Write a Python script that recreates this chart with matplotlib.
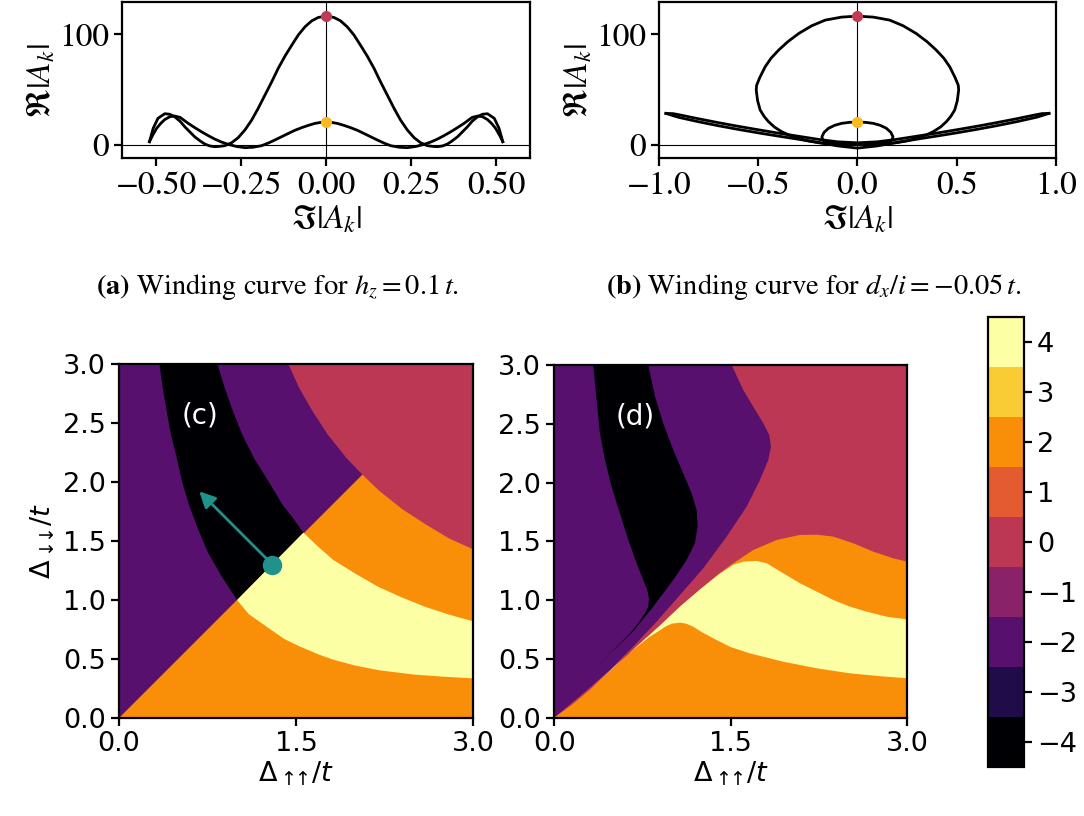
import numpy as np
import matplotlib
matplotlib.use("Agg")
import matplotlib.pyplot as plt
from matplotlib.colors import BoundaryNorm
from matplotlib.cm import ScalarMappable

plt.rcParams["mathtext.fontset"] = "stix"

# ---- winding curves, h_z = 0.1 t ----
a_outer_x = [-0.520, -0.509, -0.495, -0.475, -0.460, -0.446, -0.430, -0.416, -0.400, -0.387, -0.370,
             -0.357, -0.343, -0.328, -0.313, -0.298, -0.278, -0.259, -0.239, -0.219, -0.200, -0.180,
             -0.160, -0.141, -0.121, -0.101, -0.082, -0.062, -0.042, -0.023, 0.000, 0.023, 0.042,
             0.062, 0.082, 0.101, 0.121, 0.141, 0.160, 0.180, 0.200, 0.219, 0.239, 0.259, 0.278,
             0.298, 0.313, 0.328, 0.343, 0.357, 0.370, 0.387, 0.400, 0.416, 0.430, 0.446, 0.460,
             0.475, 0.495, 0.509, 0.520]
a_outer_y = [3.0, 15.1, 24.1, 28.3, 27.8, 25.6, 21.5, 16.5, 11.5, 7.5, 3.5, 0.9, -0.8, -1.5, -1.2,
             -0.6, 2.1, 6.6, 13.6, 22.6, 33.1, 45.2, 57.2, 69.3, 80.4, 90.3, 99.4, 106.9, 112.3,
             115.3, 116.5, 115.3, 112.3, 106.9, 99.4, 90.3, 80.4, 69.3, 57.2, 45.2, 33.1, 22.6,
             13.6, 6.6, 2.1, -0.6, -1.2, -1.5, -0.8, 0.9, 3.5, 7.5, 11.5, 16.5, 21.5, 25.6, 27.8,
             28.3, 24.1, 15.1, 3.0]
a_inner_x = [-0.520, -0.512, -0.499, -0.487, -0.475, -0.460, -0.446, -0.430, -0.406, -0.387, -0.367,
             -0.347, -0.328, -0.308, -0.288, -0.264, -0.239, -0.215, -0.190, -0.170, -0.151, -0.131,
             -0.111, -0.092, -0.072, -0.052, -0.032, -0.015, 0.000, 0.015, 0.032, 0.052, 0.072,
             0.092, 0.111, 0.131, 0.151, 0.170, 0.190, 0.215, 0.239, 0.264, 0.288, 0.308, 0.328,
             0.347, 0.367, 0.387, 0.406, 0.430, 0.446, 0.460, 0.475, 0.487, 0.499, 0.512, 0.520]
a_inner_y = [3.0, 8.0, 15.0, 19.5, 23.0, 25.6, 26.2, 25.0, 19.6, 15.8, 12.0, 8.5, 5.4, 2.7, 0.6,
             -1.3, -2.4, -2.0, -0.6, 1.8, 4.5, 7.5, 10.5, 13.3, 15.7, 17.8, 19.6, 20.5, 20.8, 20.5,
             19.6, 17.8, 15.7, 13.3, 10.5, 7.5, 4.5, 1.8, -0.6, -2.0, -2.4, -1.3, 0.6, 2.7, 5.4,
             8.5, 12.0, 15.8, 19.6, 25.0, 26.2, 25.6, 23.0, 19.5, 15.0, 8.0, 3.0]

# ---- winding curves, d_x/i = -0.05 t ----
b_big_x = [0.000, 0.080, 0.162, 0.230, 0.295, 0.350, 0.397, 0.435, 0.465, 0.492, 0.508, 0.510,
           0.503, 0.490, 0.470, 0.448, 0.418, 0.381, 0.340, 0.297, 0.250, 0.196, 0.140, 0.079,
           0.000, -0.079, -0.140, -0.196, -0.250, -0.297, -0.340, -0.381, -0.418, -0.448, -0.470,
           -0.490, -0.503, -0.510, -0.508, -0.492, -0.465, -0.435, -0.397, -0.350, -0.295, -0.230,
           -0.162, -0.080, 0.000]
b_big_y = [116.5, 115.6, 112.9, 107.8, 100.9, 93.5, 85.8, 78.5, 70.7, 61.0, 54.0, 49.7, 40.0,
           31.6, 25.8, 21.1, 16.2, 12.0, 8.6, 6.0, 3.8, 2.1, 1.1, 0.6, 0.3, 0.6, 1.1, 2.1, 3.8,
           6.0, 8.6, 12.0, 16.2, 21.1, 25.8, 31.6, 40.0, 49.7, 54.0, 61.0, 70.7, 78.5, 85.8, 93.5,
           100.9, 107.8, 112.9, 115.6, 116.5]
b_small_x = [0.000, 0.040, 0.079, 0.115, 0.146, 0.168, 0.179, 0.175, 0.163, 0.130, 0.079, 0.000,
             -0.079, -0.130, -0.163, -0.175, -0.179, -0.168, -0.146, -0.115, -0.079, -0.040, 0.000]
b_small_y = [20.8, 20.5, 19.6, 17.8, 15.1, 11.5, 7.5, 4.8, 3.0, 1.8, 1.2, 1.0, 1.2, 1.8, 3.0, 4.8,
             7.5, 11.5, 15.1, 17.8, 19.6, 20.5, 20.8]
b_upper_x = [-0.965, -0.93, -0.90, -0.80, -0.70, -0.60, -0.50, -0.40, -0.30, -0.20, -0.10, 0.00,
             0.10, 0.20, 0.30, 0.40, 0.50, 0.60, 0.70, 0.80, 0.90, 0.93, 0.965]
b_upper_y = [28.6, 28.4, 27.4, 23.7, 20.2, 16.9, 13.8, 10.8, 8.0, 5.2, 2.9, 2.0, 2.9, 5.2, 8.0,
             10.8, 13.8, 16.9, 20.2, 23.7, 27.4, 28.4, 28.6]
b_lower_x = [-0.965, -0.93, -0.90, -0.80, -0.70, -0.60, -0.50, -0.40, -0.30, -0.20, -0.10, 0.00,
             0.10, 0.20, 0.30, 0.40, 0.50, 0.60, 0.70, 0.80, 0.90, 0.93, 0.965]
b_lower_y = [28.6, 26.6, 25.0, 21.0, 17.4, 14.1, 11.0, 8.1, 5.3, 2.4, -0.8, -2.8, -0.8, 2.4, 5.3,
             8.1, 11.0, 14.1, 17.4, 21.0, 25.0, 26.6, 28.6]

peak_big = 116.5
peak_small = 20.8

# ---- phase diagram (c): boundaries in (Δ↑↑/t, Δ↓↓/t) ----
c_black_left_x = [0.342, 0.370, 0.404, 0.440, 0.490, 0.535, 0.595, 0.670, 0.755, 0.870, 1.000]
c_black_left_y = [3.000, 2.800, 2.600, 2.400, 2.200, 2.000, 1.800, 1.600, 1.400, 1.200, 1.000]
c_black_right_x = [1.562, 1.470, 1.390, 1.270, 1.145, 1.045, 0.965, 0.895, 0.833]
c_black_right_y = [1.571, 1.700, 1.800, 2.000, 2.200, 2.400, 2.600, 2.800, 3.000]
c_red_x = [1.435, 1.480, 1.525, 1.640, 1.770, 1.930, 2.065, 2.200, 2.400, 2.600, 2.800, 3.000]
c_red_y = [3.000, 2.900, 2.800, 2.600, 2.400, 2.200, 2.060, 1.930, 1.770, 1.640, 1.520, 1.430]
c_yellow_low_x = [1.000, 1.100, 1.250, 1.400, 1.534, 1.700, 1.816, 2.000, 2.200, 2.500, 2.750, 3.000]
c_yellow_low_y = [1.000, 0.880, 0.774, 0.670, 0.605, 0.535, 0.494, 0.445, 0.405, 0.368, 0.350, 0.336]
c_yellow_up_x = [3.000, 2.800, 2.600, 2.400, 2.200, 2.000, 1.816, 1.700, 1.562]
c_yellow_up_y = [0.820, 0.875, 0.940, 1.020, 1.110, 1.225, 1.339, 1.440, 1.571]

# ---- phase diagram (d) ----
d_purple_edge_x = [0.000, 0.246, 0.473, 0.671, 0.870, 1.068, 1.266, 1.465, 1.635, 1.748, 1.819,
                   1.841, 1.827, 1.776, 1.691, 1.606, 1.507]
d_purple_edge_y = [0.000, 0.207, 0.405, 0.604, 0.817, 1.043, 1.270, 1.540, 1.795, 2.022, 2.192,
                   2.305, 2.404, 2.504, 2.645, 2.787, 3.000]
d_orange_top_x = [0.000, 0.150, 0.300, 0.500, 0.700, 0.900, 1.068, 1.238, 1.400, 1.521, 1.691,
                  1.890, 2.088, 2.230, 2.371, 2.541, 2.711, 2.881, 3.000]
d_orange_top_y = [0.000, 0.110, 0.235, 0.420, 0.605, 0.785, 0.944, 1.090, 1.225, 1.313, 1.426,
                  1.511, 1.554, 1.556, 1.540, 1.483, 1.412, 1.355, 1.327]
d_yellow_up_x = [0.300, 0.500, 0.700, 0.900, 1.068, 1.238, 1.400, 1.520, 1.606, 1.720, 1.805,
                 1.946, 2.088, 2.230, 2.371, 2.513, 2.654, 2.824, 3.000]
d_yellow_up_y = [0.235, 0.420, 0.605, 0.785, 0.944, 1.090, 1.220, 1.300, 1.327, 1.333, 1.313,
                 1.228, 1.143, 1.072, 1.001, 0.944, 0.902, 0.859, 0.836]
d_yellow_low_x = [3.000, 2.800, 2.513, 2.230, 1.946, 1.663, 1.500, 1.380, 1.250, 1.181, 1.120,
                  1.068, 1.000, 0.955, 0.800, 0.671, 0.500]
d_yellow_low_y = [0.335, 0.350, 0.377, 0.420, 0.476, 0.547, 0.600, 0.660, 0.730, 0.774, 0.800,
                  0.808, 0.800, 0.780, 0.680, 0.576, 0.425]
d_black_left_x = [0.331, 0.360, 0.388, 0.431, 0.487, 0.558, 0.629, 0.700, 0.756, 0.790, 0.805,
                  0.799, 0.771, 0.714, 0.643, 0.558, 0.473, 0.388]
d_black_left_y = [3.000, 2.702, 2.419, 2.192, 1.965, 1.738, 1.512, 1.313, 1.171, 1.086, 1.015,
                  0.944, 0.888, 0.802, 0.717, 0.632, 0.547, 0.448]
d_black_right_x = [0.473, 0.671, 0.841, 1.011, 1.125, 1.195, 1.218, 1.210, 1.167, 1.096, 1.011,
                   0.926, 0.856, 0.799]
d_black_right_y = [0.545, 0.735, 0.944, 1.171, 1.341, 1.483, 1.625, 1.766, 1.908, 2.078, 2.277,
                   2.504, 2.730, 3.000]

path_start = (1.3, 1.3)
path_end = (0.68, 1.92)

levels = [-4, -3, -2, -1, 0, 1, 2, 3, 4]

cmap = plt.get_cmap("inferno", 9)
norm = BoundaryNorm(np.arange(-4.5, 5.0, 1.0), cmap.N)


def col(v):
    return cmap(norm(v))


fig = plt.figure(figsize=(10.84, 8.16), dpi=100)

serif = "STIXGeneral"
top_fs = 24


def style_top(ax):
    for s in ax.spines.values():
        s.set_linewidth(1.6)
    ax.tick_params(labelsize=top_fs, width=1.6, length=6, labelfontfamily=serif)
    ax.axhline(0, color="black", lw=0.8, zorder=1)
    ax.axvline(0, color="black", lw=0.8, zorder=1)
    ax.set_ylim(-12, 129)
    ax.set_yticks([0, 100])
    ax.set_xlabel(r"$\Im|A_k|$", fontsize=top_fs, labelpad=1)
    ax.set_ylabel(r"$\Re|A_k|$", fontsize=top_fs, labelpad=1)


ax_a = fig.add_axes([0.1128, 0.806, 0.3761, 0.1912])
ax_a.plot(a_outer_x, a_outer_y, color="black", lw=2)
ax_a.plot(a_inner_x, a_inner_y, color="black", lw=2)
ax_a.plot(0, peak_big, "o", color="#c13b52", ms=7, zorder=5)
ax_a.plot(0, peak_small, "o", color="#f9b91f", ms=7, zorder=5)
ax_a.set_xlim(-0.6, 0.6)
ax_a.set_xticks([-0.5, -0.25, 0.0, 0.25, 0.5])
style_top(ax_a)

ax_b = fig.add_axes([0.6079, 0.806, 0.3662, 0.1912])
for xs, ys in [(b_big_x, b_big_y), (b_small_x, b_small_y),
               (b_upper_x, b_upper_y), (b_lower_x, b_lower_y)]:
    ax_b.plot(xs, ys, color="black", lw=2)
ax_b.plot(0, peak_big, "o", color="#c13b52", ms=7, zorder=5)
ax_b.plot(0, peak_small, "o", color="#f9b91f", ms=7, zorder=5)
ax_b.set_xlim(-1.0, 1.0)
ax_b.set_xticks([-1.0, -0.5, 0.0, 0.5, 1.0])
style_top(ax_b)

fig.text(0.256, 0.648, r"$\mathbf{(a)}$ Winding curve for $h_z = 0.1\,t$.",
         fontsize=20.5, family=serif, ha="center", va="center")
fig.text(0.751, 0.648, r"$\mathbf{(b)}$ Winding curve for $d_x/i = -0.05\,t$.",
         fontsize=20.5, family=serif, ha="center", va="center")

arrows_up = r"$\Delta_{\uparrow\!\!\!\uparrow\!}/t$"
arrows_down = r"$\Delta_{\downarrow\!\!\!\downarrow\!}/t$"


def style_bottom(ax, label):
    ax.set_xlim(0, 3)
    ax.set_ylim(0, 3)
    ax.set_xticks([0, 1.5, 3.0])
    ax.set_yticks([0, 0.5, 1.0, 1.5, 2.0, 2.5, 3.0])
    ax.set_xticklabels(["0.0", "1.5", "3.0"])
    ax.set_yticklabels(["0.0", "0.5", "1.0", "1.5", "2.0", "2.5", "3.0"])
    ax.tick_params(labelsize=19.5, width=1.6, length=6)
    for s in ax.spines.values():
        s.set_linewidth(1.6)
    ax.set_xlabel(arrows_up, fontsize=19.5, math_fontfamily="dejavusans", labelpad=2)
    ax.text(0.686, 2.56, label, color="white", fontsize=20, ha="center", va="center")


# (c)
ax_c = fig.add_axes([0.1098, 0.1201, 0.3266, 0.4338])
ax_c.set_facecolor(col(-2))
ax_c.fill([0, 3, 3], [0, 0, 3], color=col(2), lw=0)
ax_c.fill(c_black_left_x + c_black_right_x, c_black_left_y + c_black_right_y, color=col(-4), lw=0)
ax_c.fill(c_yellow_low_x + c_yellow_up_x, c_yellow_low_y + c_yellow_up_y, color=col(4), lw=0)
ax_c.fill(c_red_x + [3.0], c_red_y + [3.0], color=col(0), lw=0)
ax_c.annotate("", xy=path_end, xytext=path_start,
              arrowprops=dict(arrowstyle="-|>", color="#21918c", lw=2, mutation_scale=24,
                              shrinkA=0, shrinkB=0))
ax_c.plot(*path_start, "o", color="#21918c", ms=13, zorder=5)
style_bottom(ax_c, "(c)")
ax_c.set_ylabel(arrows_down, fontsize=19.5, math_fontfamily="dejavusans")

# (d)
ax_d = fig.add_axes([0.5113, 0.1205, 0.3257, 0.4323])
ax_d.set_facecolor(col(-2))
ax_d.fill(d_purple_edge_x + [3.0, 3.0], d_purple_edge_y + [3.0, 0.0], color=col(0), lw=0)
ax_d.fill(d_orange_top_x + [3.0, 0.0], d_orange_top_y + [0.0, 0.0], color=col(2), lw=0)
ax_d.fill(d_yellow_up_x + d_yellow_low_x, d_yellow_up_y + d_yellow_low_y, color=col(4), lw=0)
ax_d.fill(d_black_left_x + d_black_right_x, d_black_left_y + d_black_right_y, color=col(-4), lw=0)
style_bottom(ax_d, "(d)")

# colour bar of winding numbers
cax = fig.add_axes([0.9117, 0.0604, 0.0329, 0.5515])
cb = fig.colorbar(ScalarMappable(norm=norm, cmap=cmap), cax=cax, ticks=levels)
cb.ax.minorticks_off()
cb.ax.tick_params(labelsize=19.5, width=1.6, length=6)
cb.outline.set_linewidth(1.6)

fig.savefig("out.png", dpi=100)
